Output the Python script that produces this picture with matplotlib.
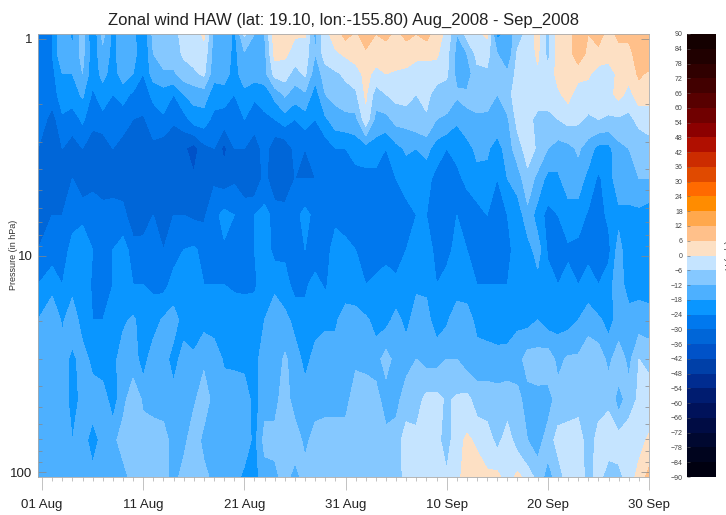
import matplotlib
matplotlib.use("Agg")
import matplotlib.pyplot as plt
import numpy as np

plt.rcParams['font.family'] = ['Liberation Sans', 'DejaVu Sans']

# niveles de presion (hPa) y dias desde el 01 Aug
presion = [0.95, 1.17, 1.45, 1.8, 2.35, 3.2, 4.4, 6.5, 9.4, 13.6, 19.8, 30, 46, 71, 105]
dias = [-0.4] + list(range(1, 61))

# viento zonal (m/s), un renglon por nivel
u_095 = [-25,-24,-12,-20,-8,-24,-10,-20,-15,-16, -24,-10,-8,-8,-4,-3,1,-14,-12,-20,
         -5,-12,-12,3,3,0.5,0.5,-14,-2,3, 8,5,9,6,8,4,8,6,8,3,
         -2,-12,-4,-1,1,-20,-16,-9,-4,2, -8,2,3,10,6,9,3,8,8,10,10]
u_117 = [-24,-24,-12,-16,-10,-22,-14,-20,-14,-15, -24,-12,-9,-9,-5,-4,-2,-15,-14,-20,
         -13,-12,-14,2,1,-2,-3,-12,-3,-1, 1,3,5,3,2,4,2,2,2,1,
         -4,-14,-12,-4,-4,-12,-17,-5,-3,1, -8,2,3,10,4,4,3,3,3,11,11]
u_145 = [-24,-26,-18,-18,-12,-22,-16,-21,-15,-18, -24,-15,-13,-13,-9,-7,-5,-16,-15,-21,
         -14,-15,-14,-4,-3,-9,-5,-16,-9,-7, -5,-3,2,-2,0,-1,-1,-4,-4,-3,
         -5,-14,-15,-8,-7,-10,-11,-4,-3,-1, -4,2,2,2,1,-3,-4,2,2,7,5]
u_180 = [-24,-27,-21,-21,-17,-25,-21,-24,-22,-25, -26,-23,-21,-24,-18,-16,-15,-21,-21,-24,
         -20,-23,-22,-16,-11,-15,-13,-21,-12,-10, -8,-7,1,-9,-6,-4,-3,-6,-4,-9,
         -9,-11,-11,-7,-8,-12,-8,-3,-4,-3, -3,-1,2,-3,-3,-4,-2,2,-2,3,3]
u_235 = [-25,-33,-25,-27,-23,-28,-26,-28,-27,-30, -31,-26,-25,-29,-27,-21,-21,-26,-27,-28,
         -24,-27,-25,-24,-21,-24,-21,-24,-19,-15, -14,-14,-2,-14,-14,-10,-10,-8,-7,-12,
         -13,-17,-13,-14,-14,-14,-13,-4,-4,-8, -8,-6,-4,-5,-7,-6,-7,-7,-8,-4,-4]
u_320 = [-30,-35,-30,-33,-30,-34,-35,-30,-33,-35, -35,-32,-34,-35,-35,-39,-32,-30,-38,-30,
         -30,-34,-27,-35,-35,-28,-30,-27,-28,-24, -24,-22,-21,-21,-24,-20,-17,-18,-16,-21,
         -24,-23,-21,-16,-17,-21,-15,-9,-3,-7, -12,-15,-14,-11,-15,-20,-20,-14,-12,-11,-8]
u_440 = [-33,-34,-33,-30,-35,-31,-35,-32,-33,-35, -35,-32,-35,-35,-35,-35,-35,-31,-33,-31,
         -31,-35,-28,-35,-35,-30,-30,-30,-30,-28, -27,-26,-26,-26,-26,-24,-22,-20,-22,-26,
         -26,-25,-23,-21,-20,-24,-18,-15,-8,-14, -20,-19,-15,-15,-20,-25,-21,-14,-14,-12,-12]
u_650 = [-30,-30,-30,-26,-25,-28,-26,-28,-28,-34, -35,-30,-35,-30,-30,-31,-31,-26,-22,-24,
         -29,-24,-22,-26,-27,-26,-22,-26,-27,-25, -27,-27,-25,-27,-25,-27,-26,-24,-24,-26,
         -24,-24,-27,-26,-24,-25,-24,-22,-14,-21, -26,-24,-21,-21,-25,-26,-23,-20,-20,-20,-22]
u_940 = [-30,-27,-27,-22,-21,-24,-26,-24,-21,-27, -26,-26,-30,-26,-24,-23,-26,-30,-25,-30,
         -26,-24,-21,-26,-25,-27,-24,-27,-26,-22, -22,-24,-26,-28,-26,-28,-24,-21,-21,-26,
         -27,-21,-24,-26,-26,-25,-26,-21,-21,-15, -25,-26,-25,-26,-26,-25,-26,-15,-24,-22,-21]
u_136 = [-24,-20,-24,-20,-20,-25,-24,-24,-20,-24, -24,-25,-26,-22,-21,-19,-24,-24,-24,-25,
         -25,-25,-21,-19,-22,-26,-25,-22,-25,-20, -21,-22,-24,-22,-21,-22,-21,-19,-19,-24,
         -20,-21,-21,-24,-24,-24,-24,-21,-21,-21, -21,-24,-22,-24,-21,-24,-20,-15,-21,-20,-20]
u_198 = [-18,-13,-19,-14,-21,-24,-24,-21,-19,-17, -21,-21,-17,-15,-21,-21,-20,-21,-19,-20,
         -21,-20,-18,-15,-16,-20,-22,-20,-19,-19, -15,-15,-17,-20,-20,-16,-20,-15,-16,-21,
         -19,-14,-15,-20,-21,-21,-22,-19,-20,-18, -21,-20,-20,-18,-15,-17,-20,-16,-15,-15,-16]
u_300 = [-14,-15,-15,-20,-15,-20,-21,-20,-15,-15, -21,-14,-15,-21,-15,-17,-13,-14,-19,-20,
         -20,-20,-15,-16,-11,-15,-20,-16,-15,-15, -15,-13,-13,-15,-9,-15,-14,-12,-14,-14,
         -12,-12,-15,-15,-15,-16,-15,-15,-9,-9, -8,-14,-11,-11,-7,-8,-14,-8,-14,-6,-7]
u_460 = [-15,-14,-14,-21,-16,-14,-15,-21,-14,-8, -13,-14,-14,-15,-15,-13,-9,-14,-14,-12,
         -14,-21,-14,-14,-9,-15,-15,-15,-14,-14, -14,-9,-10,-9,-16,-14,-9,-9,-4,-4,
         -7,-5,-4,-9,-9,-9,-9,-10,-15,-14, -15,-9,-8,-8,-9,-8,-7,-15,-9,-5,-4]
u_710 = [-15,-15,-15,-18,-14,-22,-15,-14,-9,-8, -9,-9,-10,-14,-14,-8,-14,-15,-15,-14,
         -14,-20,-10,-10,-9,-8,-14,-9,-9,-9, -9,-9,-9,-9,-9,-9,-3,-4,-3,-4,
         -9,-2,1,-1,-3,-8,-3,-9,-12,-15, -9,-4,-4,-3,-9,-4,-3,-3,-2,-2,1]
u_1050 = [-12,-15,-15,-15,-15,-15,-15,-15,-15,-9, -9,-9,-9,-15,-9,-9,-10,-14,-15,-15,
          -20,-20,-15,-14,-9,-15,-9,-12,-9,-9, -9,-9,-9,-9,-9,-9,-4,-3,-4,-4,
          -5,-2,3,3,1,2,-4,2,-3,-8, -15,-9,-3,-3,-8,-4,-9,-8,-3,2,8]

# colores de la escala, de -90 a 90 cada 6 m/s
colores = ['#000010','#00041e','#000830','#000c44','#00125a','#001c70','#002c90','#0040a8',
           '#0052c8','#0066d8','#0078ee','#0a96ff','#4db0ff','#85c8ff','#c5e4ff',
           '#fde0c4','#ffc08a','#ffa84d','#ff8c00','#ff6a00','#e04a00','#cc2c00','#b00f00',
           '#8c0000','#700000','#580000','#420000','#300000','#200000','#140000']
niveles = list(range(-90, 91, 6))

viento = np.array([u_095, u_117, u_145, u_180, u_235, u_320, u_440, u_650,
                   u_940, u_136, u_198, u_300, u_460, u_710, u_1050])

W, H = 726, 515
fig = plt.figure(figsize=(W/100, H/100), dpi=100)
ax = fig.add_axes([38/W, 1-477/H, (649-38)/W, (477-34)/H])
cs = ax.contourf(dias, presion, viento, levels=niveles, colors=colores)
ax.set_yscale('log')
ax.set_ylim(105, 0.95)
ax.set_xlim(-0.4, 60)

fechas = ['01 Aug', '11 Aug', '21 Aug', '31 Aug', '10 Sep', '20 Sep', '30 Sep']
ax.set_xticks(range(0, 61, 10))
ax.set_xticklabels(fechas, fontsize=9.5, color='#222222')
ax.set_xticks(range(0, 61), minor=True)
ax.tick_params(axis='x', which='major', length=9, width=0.5, color='#aaaaaa', pad=7)
ax.tick_params(axis='x', which='minor', length=3, width=0.5, color='#aaaaaa')
ax.set_yticks([1, 10, 100])
ax.set_yticklabels(['1', '10', '100'], fontsize=9.5, color='#222222')
ax.tick_params(axis='y', which='both', direction='in', right=True, width=0.5, color='#888888', length=6, pad=4)
ax.tick_params(axis='y', which='minor', length=3)
for s in ax.spines.values():
    s.set_color('#aaaaaa')
    s.set_linewidth(0.6)

fig.text(344/W, 1-20/H, 'Zonal wind HAW (lat: 19.10, lon:-155.80) Aug_2008 - Sep_2008',
         ha='center', va='center', fontsize=12, color='#222222')
fig.text(13/W, 1-255/H, 'Pressure (in hPa)', rotation=90, ha='center', va='center',
         fontsize=6.5, color='#333333')

cax = fig.add_axes([687/W, 1-477/H, (716-687)/W, (477-34)/H])
cb = fig.colorbar(cs, cax=cax, ticks=niveles)
cb.ax.yaxis.set_ticks_position('left')
cb.ax.tick_params(labelsize=5, length=2, width=0.4, direction='in', color='#666666', labelcolor='#444444', pad=3)
cb.outline.set_visible(False)
fig.text(729/W, 1-255/H, 'U (m/s)', rotation=90, ha='center', va='center', fontsize=6.5, color='#333333')

fig.savefig('out.png', dpi=100)
